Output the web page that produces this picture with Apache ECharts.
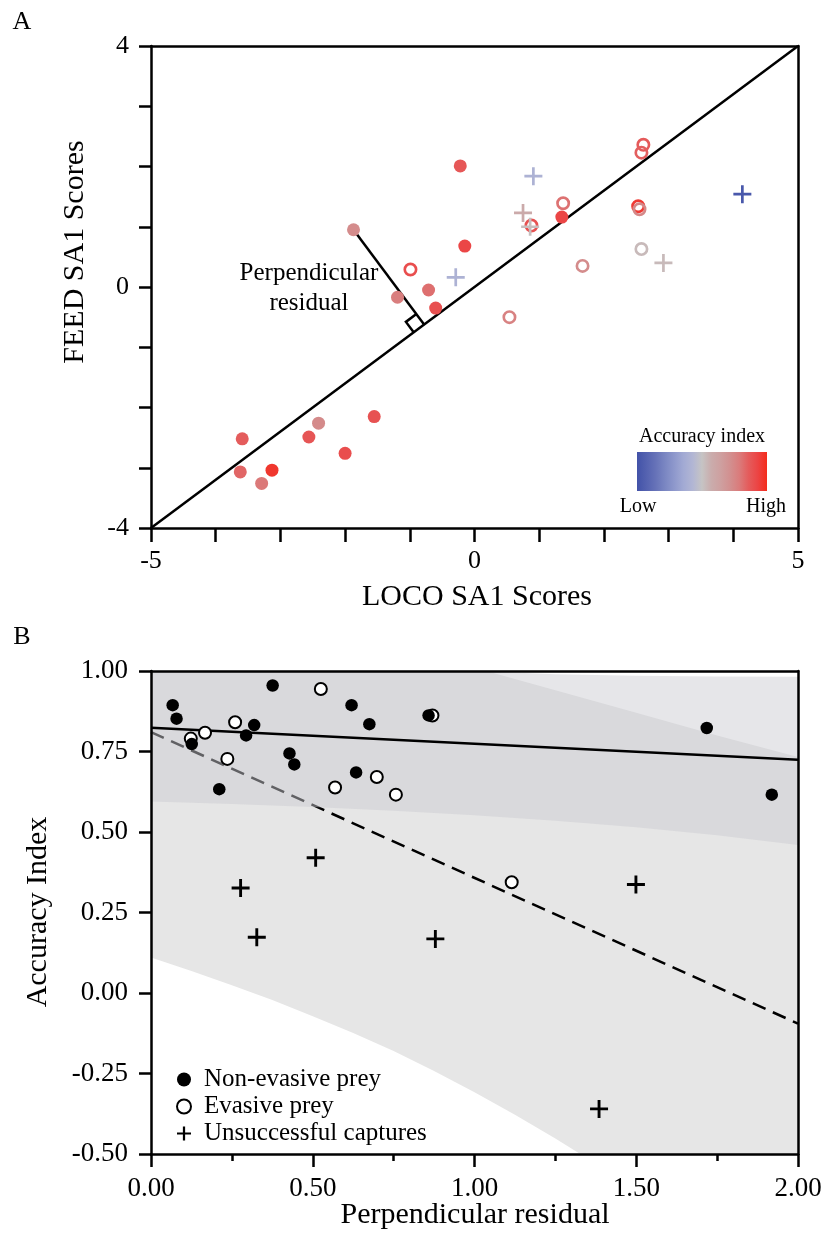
<!DOCTYPE html>
<html>
<head>
<meta charset="utf-8">
<title>SA1 scores and accuracy index</title>
<script src="https://cdn.jsdelivr.net/npm/echarts@6/dist/echarts.min.js"></script>
<style>
  html, body { margin: 0; padding: 0; background: #fff; }
  #chart { width: 828px; height: 1241px; }
</style>
</head>
<body>
<div id="chart"></div>
<script>
// ---------- Panel A: LOCO vs FEED SA1 scores, each row is [LOCO, FEED, accuracy index] ----------
const nonEvasiveA = [
  [-0.22, 2.01, 0.82], [-0.15, 0.68, 0.89], [-1.87, 0.95, 0.62], [-1.19, -0.17, 0.69],
  [-0.71, -0.05, 0.74], [-0.60, -0.35, 0.85], [1.35, 1.16, 0.89], [-3.59, -2.52, 0.80],
  [-3.62, -3.07, 0.77], [-3.13, -3.04, 0.955], [-3.29, -3.26, 0.71], [-2.56, -2.49, 0.83],
  [-2.41, -2.26, 0.63], [-2.00, -2.76, 0.86], [-1.55, -2.15, 0.84]
];
const evasiveA = [
  [-0.99, 0.29, 0.86], [1.37, 1.39, 0.73], [0.88, 1.02, 0.84], [2.61, 2.36, 0.81],
  [2.58, 2.23, 0.79], [2.53, 1.34, 0.94], [2.55, 1.29, 0.64], [2.58, 0.63, 0.34],
  [1.67, 0.35, 0.62], [0.54, -0.50, 0.67]
];
const unsuccessfulA = [
  [-0.29, 0.16, 0.17], [0.91, 1.84, 0.17], [0.75, 1.23, 0.42], [0.86, 1.00, 0.33],
  [2.92, 0.40, 0.34], [4.14, 1.54, -0.36]
];
const identityLine = [[-5, -4], [5, 4]];
const residualExampleIndex = 2;           // the non-evasive strike whose residual is illustrated
const xLabelsA = [-5, 0, 5];
const yLabelsA = [-4, 0, 4];

// accuracy index colour ramp, evenly spaced from accuracyMin to accuracyMax
const accuracyMin = -0.4;
const accuracyMax = 1.0;
const accuracyColors = [
  '#4252a8', '#5462b0', '#6672b8', '#7a86c2', '#8e98cc', '#a2aad4', '#b2b6d4', '#c6c4c4',
  '#caacac', '#cea0a0', '#d29090', '#da7c7c', '#e45c5c', '#ec4444', '#f42c1c'
];

// ---------- Panel B: perpendicular residual vs accuracy index ----------
const nonEvasiveB = [
  [0.067, 0.894], [0.079, 0.852], [0.126, 0.773], [0.211, 0.633], [0.294, 0.800],
  [0.319, 0.832], [0.376, 0.955], [0.428, 0.744], [0.443, 0.710], [0.620, 0.894],
  [0.634, 0.685], [0.675, 0.835], [0.858, 0.862], [1.718, 0.823], [1.919, 0.616]
];
const evasiveB = [
  [0.123, 0.790], [0.167, 0.808], [0.260, 0.841], [0.236, 0.727], [0.525, 0.944],
  [0.569, 0.638], [0.698, 0.671], [0.757, 0.616], [0.870, 0.862], [1.115, 0.344]
];
const unsuccessfulB = [
  [0.277, 0.326], [0.327, 0.173], [0.509, 0.420], [0.879, 0.168], [1.385, -0.360], [1.499, 0.337]
];
const successfulFit = [[0, 0.824], [2, 0.724]];
const allStrikesFit = [[0, 0.810], [2, -0.095]];

// confidence bands: edge x positions and values
const successfulX = [0, 0.25, 0.5, 0.75, 1.0, 1.25, 1.5, 1.75, 2.0];
const successfulLower = [0.595, 0.587, 0.578, 0.566, 0.552, 0.535, 0.515, 0.490, 0.460];
const successfulUpper = [1.060, 1.045, 1.030, 1.015, 1.000, 0.990, 0.985, 0.983, 0.982];
const allStrikesUpperX = [0, 0.25, 0.5, 0.75, 1.0, 1.25, 1.5, 1.75, 2.0];
const allStrikesUpper = [1.550, 1.420, 1.290, 1.150, 1.010, 0.940, 0.870, 0.800, 0.733];
const allStrikesLowerX = [0, 0.125, 0.25, 0.375, 0.5, 0.625, 0.75, 0.875, 1.0,
                          1.125, 1.25, 1.375, 1.5, 1.625, 1.75, 1.875, 2.0];
const allStrikesLower = [0.110, 0.068, 0.024, -0.022, -0.072, -0.124, -0.180, -0.242, -0.308,
                         -0.378, -0.452, -0.530, -0.612, -0.700, -0.790, -0.885, -0.980];

// ---------- drawing ----------
const serif = '"Liberation Serif", "Times New Roman", Times, serif';
const ink = '#000';
const ringPath = 'path://M0,-1A1,1 0 1,1 0,1A1,1 0 1,1 0,-1ZM0,-0.62A0.62,0.62 0 1,0 0,0.62A0.62,0.62 0 1,0 0,-0.62Z';
const crossPathA = 'path://M-0.15,-1L0.15,-1L0.15,-0.15L1,-0.15L1,0.15L0.15,0.15L0.15,1L-0.15,1L-0.15,0.15L-1,0.15L-1,-0.15L-0.15,-0.15Z';
const crossPathB = 'path://M-0.16,-1L0.16,-1L0.16,-0.16L1,-0.16L1,0.16L0.16,0.16L0.16,1L-0.16,1L-0.16,0.16L-1,0.16L-1,-0.16L-0.16,-0.16Z';

function mainAxis(gridIndex, min, max, interval, tickLen, fontSize, margin, formatter, extra) {
  return Object.assign({
    type: 'value', gridIndex, min, max, interval,
    axisLine: { show: true, onZero: false, lineStyle: { color: ink, width: 2.5 } },
    axisTick: { show: true, inside: false, length: tickLen, lineStyle: { color: ink, width: 2.5 } },
    splitLine: { show: false },
    axisLabel: { show: true, color: ink, fontFamily: serif, fontSize, margin, formatter },
    z: 10
  }, extra || {});
}
function frameAxis(gridIndex, min, max, position) {
  return {
    type: 'value', gridIndex, min, max, position,
    axisLine: { show: true, onZero: false, lineStyle: { color: ink, width: 2.5 } },
    axisTick: { show: false }, axisLabel: { show: false }, splitLine: { show: false },
    z: 10
  };
}
function bandSeries(lowerX, lower, upperX, upper, fill, z) {
  return {
    type: 'custom', xAxisIndex: 2, yAxisIndex: 2, clip: true, silent: true, z,
    data: [[lowerX[0], lower[0]]],
    renderItem(params, api) {
      const pts = [];
      for (let i = 0; i < upperX.length; i++) pts.push(api.coord([upperX[i], upper[i]]));
      for (let i = lowerX.length - 1; i >= 0; i--) pts.push(api.coord([lowerX[i], lower[i]]));
      return { type: 'polygon', shape: { points: pts }, style: { fill: fill, stroke: null } };
    }
  };
}

const chart = echarts.init(document.getElementById('chart'), null, { renderer: 'canvas' });

chart.setOption({
  animation: false,
  backgroundColor: '#fff',
  grid: [
    { left: 151, top: 46, width: 647, height: 482, outerBoundsMode: 'none', containLabel: false },
    { left: 151, top: 671, width: 647, height: 483, outerBoundsMode: 'none', containLabel: false }
  ],
  xAxis: [
    mainAxis(0, -5, 5, 1, 14, 26, 20, v => (xLabelsA.includes(v) ? String(v) : '')),
    frameAxis(0, -5, 5, 'top'),
    mainAxis(1, 0, 2, 0.5, 13, 27, 21, v => v.toFixed(2), {
      minorTick: { show: true, splitNumber: 2, length: 7, lineStyle: { color: ink, width: 2.5 } }
    }),
    frameAxis(1, 0, 2, 'top')
  ],
  yAxis: [
    mainAxis(0, -4, 4, 1, 12, 26, 22, v => (yLabelsA.includes(v) ? String(v) : '')),
    frameAxis(0, -4, 4, 'right'),
    mainAxis(1, -0.5, 1.0, 0.25, 12, 27, 23, v => v.toFixed(2)),
    frameAxis(1, -0.5, 1.0, 'right')
  ],
  visualMap: {
    type: 'continuous', show: false, seriesIndex: [1, 2, 3], dimension: 2,
    min: accuracyMin, max: accuracyMax, inRange: { color: accuracyColors }
  },
  legend: {
    data: ['Non-evasive prey', 'Evasive prey', 'Unsuccessful captures'],
    orient: 'vertical', left: 171, top: 1061, itemWidth: 14, itemHeight: 14, itemGap: 0,
    selectedMode: false,
    textStyle: { fontFamily: serif, fontSize: 25, color: ink, lineHeight: 27, padding: [0, 0, 0, 8] }
  },
  series: [
    // Panel A
    { type: 'line', name: 'Equal scores', xAxisIndex: 0, yAxisIndex: 0, data: identityLine,
      symbol: 'none', silent: true, z: 2, lineStyle: { color: ink, width: 2.5 } },
    { type: 'scatter', name: 'LOCO/FEED non-evasive', xAxisIndex: 0, yAxisIndex: 0, data: nonEvasiveA,
      encode: { x: 0, y: 1 }, symbol: 'circle', symbolSize: 13, z: 5, itemStyle: { opacity: 1 } },
    { type: 'scatter', name: 'LOCO/FEED evasive', xAxisIndex: 0, yAxisIndex: 0, data: evasiveA,
      encode: { x: 0, y: 1 }, symbol: ringPath, symbolSize: 14, z: 6, itemStyle: { opacity: 1 } },
    { type: 'scatter', name: 'LOCO/FEED unsuccessful', xAxisIndex: 0, yAxisIndex: 0, data: unsuccessfulA,
      encode: { x: 0, y: 1 }, symbol: crossPathA, symbolSize: 18, z: 7, itemStyle: { opacity: 1 } },
    // Panel B
    bandSeries(allStrikesLowerX, allStrikesLower, allStrikesUpperX, allStrikesUpper, '#e6e6e6', 1),
    { type: 'line', name: 'All strikes fit', xAxisIndex: 2, yAxisIndex: 2, data: allStrikesFit,
      symbol: 'none', silent: true, z: 2, lineStyle: { color: ink, width: 2.5, type: [14, 8] } },
    bandSeries(successfulX, successfulLower, successfulX, successfulUpper, 'rgba(203,203,208,0.48)', 3),
    { type: 'line', name: 'Successful captures fit', xAxisIndex: 2, yAxisIndex: 2, data: successfulFit,
      symbol: 'none', silent: true, z: 4, lineStyle: { color: ink, width: 2.5 } },
    { type: 'scatter', name: 'Evasive prey', xAxisIndex: 2, yAxisIndex: 2, data: evasiveB,
      symbol: 'emptyCircle', symbolSize: 12, z: 5, itemStyle: { color: ink, opacity: 1 } },
    { type: 'scatter', name: 'Non-evasive prey', xAxisIndex: 2, yAxisIndex: 2, data: nonEvasiveB,
      symbol: 'circle', symbolSize: 12.5, z: 6, itemStyle: { color: ink, opacity: 1 } },
    { type: 'scatter', name: 'Unsuccessful captures', xAxisIndex: 2, yAxisIndex: 2, data: unsuccessfulB,
      symbol: crossPathB, symbolSize: 18, z: 7, itemStyle: { color: ink, opacity: 1 } }
  ]
});

// ---------- annotations placed with the chart's own coordinate conversion ----------
const toA = pt => chart.convertToPixel({ gridIndex: 0 }, pt);
const sample = nonEvasiveA[residualExampleIndex];
const p = toA([sample[0], sample[1]]);
const a = toA(identityLine[0]);
const b = toA(identityLine[1]);
const len = Math.hypot(b[0] - a[0], b[1] - a[1]);
const ux = (b[0] - a[0]) / len, uy = (b[1] - a[1]) / len;
const t = (p[0] - a[0]) * ux + (p[1] - a[1]) * uy;
const foot = [a[0] + ux * t, a[1] + uy * t];
const nl = Math.hypot(p[0] - foot[0], p[1] - foot[1]);
const nx = (p[0] - foot[0]) / nl, ny = (p[1] - foot[1]) / nl;
const s = 13;
const corner1 = [foot[0] + nx * s, foot[1] + ny * s];
const corner2 = [corner1[0] - ux * s, corner1[1] - uy * s];
const corner3 = [foot[0] - ux * s, foot[1] - uy * s];

// colour bar uses the same ramp as the points
const stops = accuracyColors.map((c, i) => ({ offset: i / (accuracyColors.length - 1), color: c }));
const barX = 637, barY = 452, barW = 130, barH = 39;

function label(text, x, y, size, extra) {
  return Object.assign({
    type: 'text', x, y, z: 20, silent: true,
    style: { text, fill: ink, fontFamily: serif, fontSize: size,
             textAlign: 'center', textVerticalAlign: 'middle', align: 'center', verticalAlign: 'middle' }
  }, extra || {});
}

chart.setOption({
  graphic: [
    { type: 'line', z: 1, silent: true,
      shape: { x1: p[0], y1: p[1], x2: foot[0], y2: foot[1] },
      style: { stroke: ink, lineWidth: 2.5 } },
    { type: 'polyline', z: 1, silent: true,
      shape: { points: [corner1, corner2, corner3] },
      style: { stroke: ink, lineWidth: 2.5, fill: null } },
    label('Perpendicular', 309, 273, 25),
    label('residual', 309, 303, 25),
    { type: 'rect', z: 20, silent: true,
      shape: { x: barX, y: barY, width: barW, height: barH },
      style: { fill: new echarts.graphic.LinearGradient(0, 0, 1, 0, stops), stroke: null } },
    label('Accuracy index', barX + barW / 2, 437, 20),
    label('Low', barX + 1, 507, 20),
    label('High', barX + barW - 1, 507, 20),
    // panel letters and axis titles
    label('A', 22, 22, 26),
    label('B', 22, 637, 26),
    label('LOCO SA1 Scores', 477, 597, 30),
    label('FEED SA1 Scores', 75, 252, 30, { rotation: Math.PI / 2 }),
    label('Perpendicular residual', 475, 1215, 30),
    label('Accuracy Index', 38, 912, 30, { rotation: Math.PI / 2 })
  ]
});
</script>
</body>
</html>
